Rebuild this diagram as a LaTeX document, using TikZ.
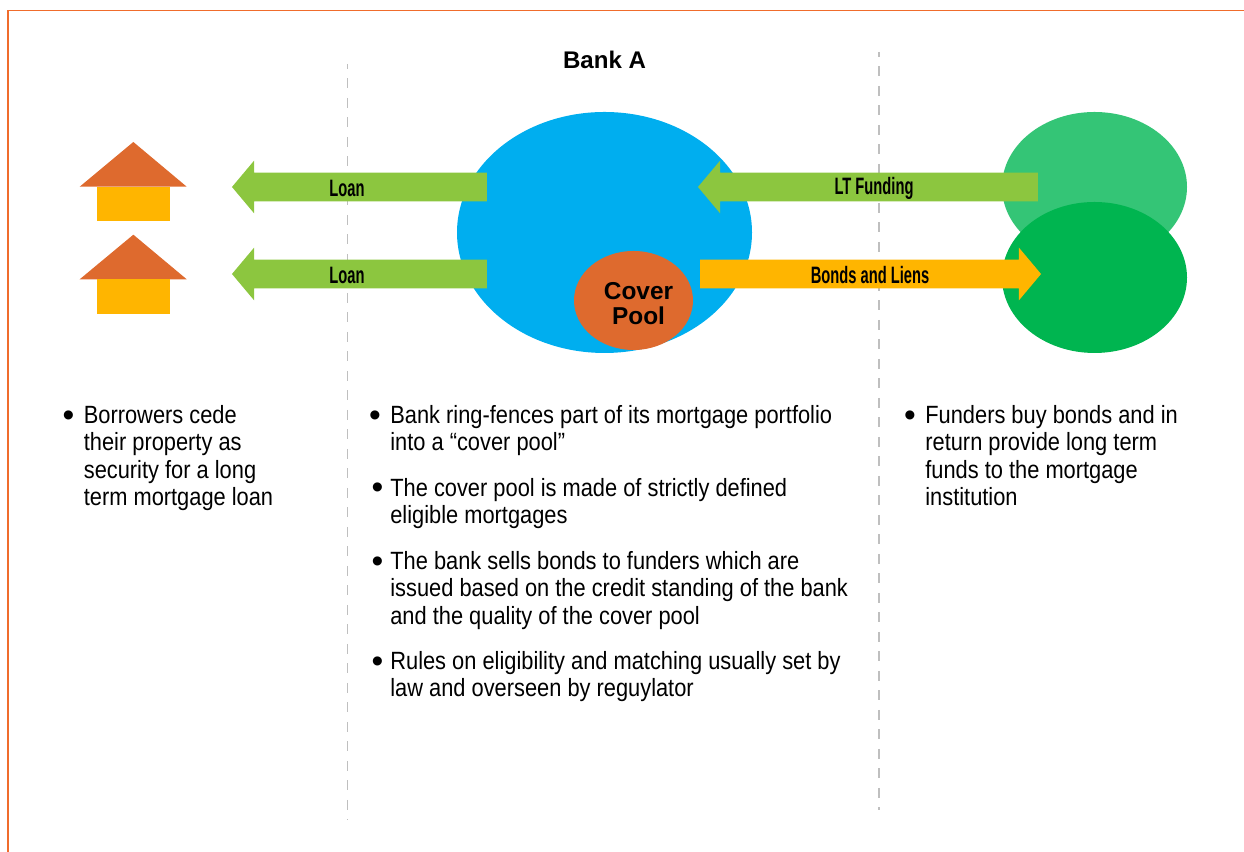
\documentclass[tikz,border=0pt]{standalone}
\usepackage{fontspec}
\usepackage{tikz}
\usetikzlibrary{shapes.geometric, shapes.arrows}
\setmainfont{Liberation Sans}
\newfontfamily\bodyfont[FakeStretch=0.875]{Liberation Sans}
\newfontfamily\narrowbold[FakeStretch=0.62]{Liberation Sans Bold}
\definecolor{frameorange}{RGB}{240,108,44}
\definecolor{roofbrown}{RGB}{222,106,46}
\definecolor{wallyellow}{RGB}{255,181,0}
\definecolor{bankblue}{RGB}{0,174,239}
\definecolor{arrowgreen}{RGB}{140,198,63}
\definecolor{funderlight}{RGB}{52,197,118}
\definecolor{funderdark}{RGB}{0,181,80}
\tikzset{
    blob/.style={ellipse, inner sep=0pt},
    wall/.style={rectangle, fill=wallyellow, inner sep=0pt, minimum width=1.46cm},
    roof/.style={fill=roofbrown},
    flow/.style={single arrow, inner xsep=0pt, inner ysep=0.28cm, single arrow head extend=0.24cm, single arrow tip angle=100, single arrow head indent=0pt},
    flowtext/.style={font=\narrowbold\fontsize{13.5}{15}\selectfont},
    divider/.style={dash pattern=on 0.2cm off 0.19cm, dash phase=0.1cm, color=black!25, line width=0.8pt},
    item/.style={anchor=north west, inner sep=0pt, align=left, font=\bodyfont\fontsize{14.2}{15.55}\selectfont},
    bull/.style={inner sep=0pt, font=\fontsize{19}{19}\selectfont}
}
\begin{document}
\begin{tikzpicture}
        \useasboundingbox (0,0) rectangle (24.88,17.04);
        \coordinate (framea) at (0.16,0);
        \coordinate (frameb) at (0.16,16.83);
        \coordinate (framec) at (24.88,16.83);
        \draw[frameorange, line width=1pt] (framea) -- (frameb) -- (framec);
        \coordinate (diva) at (6.95,15.76);
        \coordinate (divb) at (6.95,0.64);
        \coordinate (divc) at (17.58,16);
        \coordinate (divd) at (17.58,0.84);
        \draw[divider] (diva) -- (divb);
        \draw[divider] (divc) -- (divd);

        \node[font=\bfseries\fontsize{13.7}{15}\selectfont] (bank) at (12.09,15.84) {Bank A};
        \node[blob, fill=bankblue, minimum width=5.9cm, minimum height=4.82cm] (blue) at (12.09,12.39) {};
        \node[blob, fill=roofbrown, minimum width=2.38cm, minimum height=1.98cm] (pool) at (12.67,11.03) {};
        \node[align=center, font=\bfseries\fontsize{13.9}{14.2}\selectfont] (pooltext) at (12.77,10.96) {Cover\\Pool};
        \node[blob, fill=funderlight, minimum width=3.7cm, minimum height=3cm] (funda) at (21.89,13.30) {};
        \node[blob, fill=funderdark, minimum width=3.7cm, minimum height=3.02cm] (fundb) at (21.89,11.49) {};

        \fill[roof] (1.594,13.306) -- (2.667,14.2) -- (3.734,13.306) -- cycle;
        \node[wall, minimum height=0.68cm] (walla) at (2.67,12.966) {};
        \fill[roof] (1.594,11.454) -- (2.667,12.346) -- (3.734,11.454) -- cycle;
        \node[wall, minimum height=0.688cm] (wallb) at (2.67,11.11) {};

        \node[flow, fill=arrowgreen, minimum height=5.1cm, shape border rotate=180] (loana) at (7.31,13.3) {};
        \node[flow, fill=arrowgreen, minimum height=5.1cm, shape border rotate=180] (loanb) at (7.31,11.56) {};
        \node[flow, fill=arrowgreen, minimum height=6.8cm, shape border rotate=180] (lt) at (17.48,13.3) {};
        \node[flow, fill=wallyellow, minimum height=6.82cm] (bonds) at (17.29,11.56) {};
        \node[flowtext] (loanatext) at (6.94,13.28) {Loan};
        \node[flowtext] (loanbtext) at (6.94,11.54) {Loan};
        \node[flowtext] (lttext) at (17.48,13.28) {LT Funding};
        \node[flowtext] (bondstext) at (17.4,11.54) {Bonds and Liens};

        \node[bull] (dota) at (1.37,8.66) {•};
        \node[item] (borrow) at (1.67,8.94) {Borrowers cede\\their property as\\security for a long\\term mortgage loan};
        \node[bull] (dotb) at (7.5,8.66) {•};
        \node[item] (ring) at (7.8,8.94) {Bank ring-fences part of its mortgage portfolio\\into a “cover pool”};
        \node[bull] (dotc) at (7.55,7.22) {•};
        \node[item] (strict) at (7.8,7.48) {The cover pool is made of strictly defined\\eligible mortgages};
        \node[bull] (dotd) at (7.55,5.75) {•};
        \node[item] (sells) at (7.8,6.02) {The bank sells bonds to funders which are\\issued based on the credit standing of the bank\\and the quality of the cover pool};
        \node[bull] (dote) at (7.55,3.74) {•};
        \node[item] (rules) at (7.8,4.02) {Rules on eligibility and matching usually set by\\law and overseen by reguylator};
        \node[bull] (dotf) at (18.2,8.66) {•};
        \node[item] (funders) at (18.5,8.94) {Funders buy bonds and in\\return provide long term\\funds to the mortgage\\institution};
    \end{tikzpicture}
\end{document}
